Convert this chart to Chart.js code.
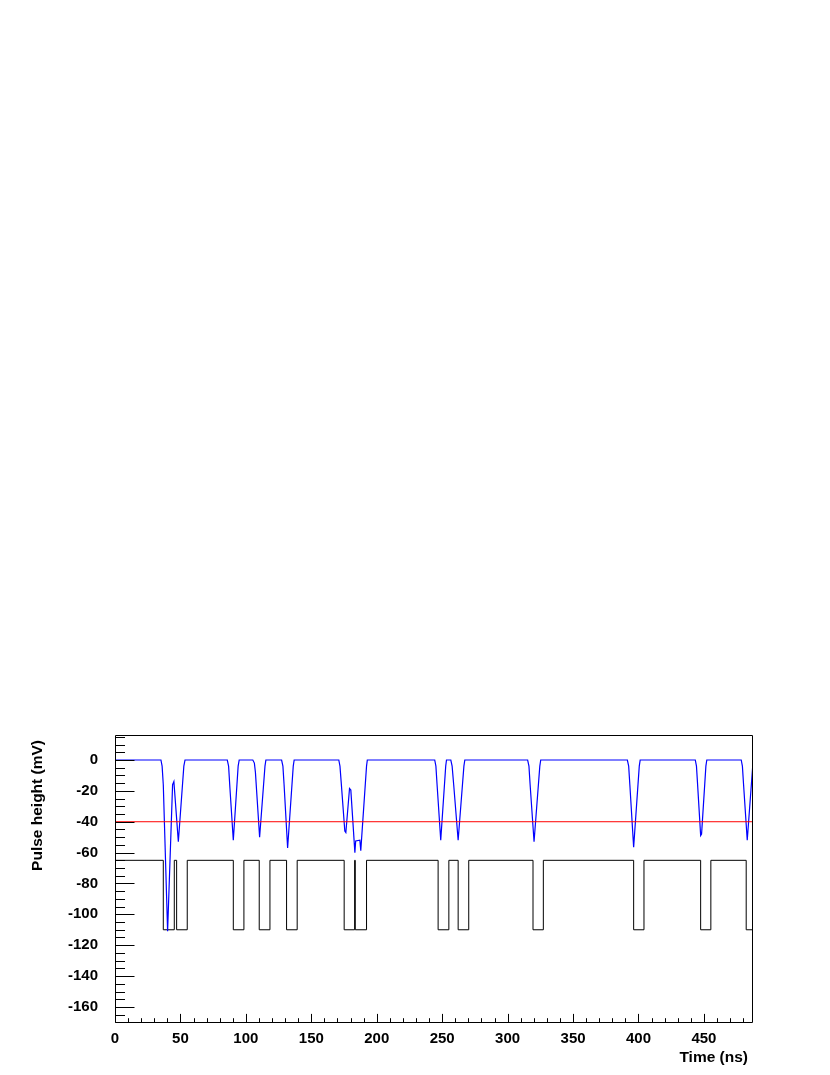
<!DOCTYPE html>
<html>
<head>
  <meta charset="UTF-8">
  <title>Pulse height vs time</title>
  <script src="https://cdn.jsdelivr.net/npm/chart.js"></script>
  <style>
    body { margin: 0; background: #fff; }
    canvas { display: block; }
  </style>
</head>
<body>
  <canvas id="pulseChart" width="830" height="1075"></canvas>

  <script>
    // waveform (blue), time in ns / height in mV
    const blueT = [0, 35.1, 36.0, 36.9, 40.2, 44.0, 45.0, 48.4, 52.6, 53.5,
      85.8, 86.8, 87.8, 90.4, 94.1, 94.9,
      105.3, 106.5, 107.3, 110.5, 114.6, 115.3,
      127.3, 128.3, 129.2, 131.9, 136.2, 136.9,
      171.0, 171.9, 172.8, 175.6, 176.4, 179.2, 180.2, 183.3, 183.9, 187.1, 187.8, 192.2, 192.8,
      244.3, 245.2, 246.1, 248.9, 252.7, 253.3,
      256.6, 257.6, 258.8, 262.2, 266.6, 267.3,
      315.3, 316.3, 317.2, 320.2, 324.6, 325.3,
      391.5, 392.5, 393.4, 396.3, 400.6, 401.3,
      443.4, 444.3, 445.1, 447.5, 448.2, 451.5, 452.2,
      478.5, 479.4, 480.3, 483.1, 487.5];
    const blueV = [0, 0, -4, -16, -111, -16, -14, -53, -4, 0,
      0, -4, -18, -52, -4, 0,
      0, -2, -8, -50, -4, 0,
      0, -4, -16, -57, -4, 0,
      0, -4, -14, -46, -47, -18.5, -19.5, -60, -52.5, -52, -58.7, -4, 0,
      0, -4, -16, -52, -4, 0,
      0, -4, -16, -52, -4, 0,
      0, -4, -16, -53, -4, 0,
      0, -4, -16, -56.5, -4, 0,
      0, -4, -15, -49, -48, -4, 0,
      0, -4, -16, -52, -1.5];

    // discriminator output (black), level changes
    const logicT = [0, 36.9, 45.3, 47.1, 55.2, 90.4, 98.5, 110.2, 118.4, 131.1, 139.2,
      175.1, 183.1, 183.6, 192.2, 246.9, 255.1, 262.2, 270.3, 319.4, 327.3,
      396.3, 404.2, 447.5, 455.3, 482.3, 487.5];
    const logicV = [-65, -110, -65, -110, -65, -110, -65, -110, -65, -110, -65,
      -110, -65, -110, -65, -110, -65, -110, -65, -110, -65,
      -110, -65, -110, -65, -110, -110];

    // threshold (red)
    const thrT = [0, 487.5];
    const thrV = [-40, -40];

    const xMin = 0, xMax = 487.5;
    const yMin = -170.4, yMax = 16.2;

    const pts = (xs, ys) => xs.map((x, i) => ({ x: x, y: ys[i] }));

    const FONT = '"Liberation Sans", Arial, sans-serif';
    Chart.defaults.font.family = FONT;
    Chart.defaults.color = '#000';

    // ROOT style frame, inward ticks and axis titles
    const rootAxes = {
      id: 'rootAxes',
      afterDraw(chart) {
        const ctx = chart.ctx;
        const a = chart.chartArea;
        const xs = chart.scales.x, ys = chart.scales.y;
        const L = Math.round(a.left) + 0.5, R = Math.round(a.right) - 0.5;
        const T = Math.round(a.top) + 0.5, B = Math.round(a.bottom) - 0.5;
        ctx.save();
        ctx.strokeStyle = '#000';
        ctx.lineWidth = 1;
        ctx.beginPath();
        ctx.rect(L, T, R - L, B - T);
        for (let v = -170; v <= 15; v += 5) {
          const py = Math.round(ys.getPixelForValue(v)) + 0.5;
          const len = v % 20 === 0 ? 19 : 9.5;
          ctx.moveTo(L, py);
          ctx.lineTo(L + len, py);
        }
        for (let t = 0; t <= 480; t += 10) {
          const px = Math.round(xs.getPixelForValue(t)) + 0.5;
          const len = t % 50 === 0 ? 8.6 : 4.3;
          ctx.moveTo(px, B);
          ctx.lineTo(px, B - len);
        }
        ctx.stroke();

        ctx.fillStyle = '#000';
        ctx.font = 'bold 15.5px ' + FONT;
        ctx.textAlign = 'right';
        ctx.textBaseline = 'alphabetic';
        ctx.fillText('Time (ns)', a.right - 5, a.bottom + 39);
        ctx.translate(42, a.top + 5);
        ctx.rotate(-Math.PI / 2);
        ctx.fillText('Pulse height (mV)', 0, 0);
        ctx.restore();
      }
    };

    const ctx = document.getElementById('pulseChart').getContext('2d');
    new Chart(ctx, {
      type: 'scatter',
      data: {
        datasets: [
          {
            label: 'threshold',
            data: pts(thrT, thrV),
            showLine: true,
            borderColor: '#ff0000',
            borderWidth: 1,
            pointRadius: 0
          },
          {
            label: 'pulse',
            data: pts(blueT, blueV),
            showLine: true,
            borderColor: '#0000ff',
            borderWidth: 1.2,
            pointRadius: 0,
            tension: 0
          },
          {
            label: 'discriminator',
            data: pts(logicT, logicV),
            showLine: true,
            stepped: 'before',
            borderColor: '#000000',
            borderWidth: 1,
            pointRadius: 0
          }
        ]
      },
      options: {
        responsive: false,
        animation: false,
        layout: { padding: { top: 735, right: 77, left: 0, bottom: 0 } },
        plugins: {
          legend: { display: false },
          tooltip: { enabled: false }
        },
        scales: {
          x: {
            type: 'linear',
            min: xMin,
            max: xMax,
            afterFit: s => { s.height = 52; },
            grid: { display: false, drawTicks: false },
            border: { display: false },
            ticks: {
              stepSize: 50,
              includeBounds: false,
              autoSkip: false,
              maxRotation: 0,
              padding: 7,
              font: { size: 15, weight: 'bold' }
            }
          },
          y: {
            type: 'linear',
            min: yMin,
            max: yMax,
            afterFit: s => { s.width = 115; },
            grid: { display: false, drawTicks: false },
            border: { display: false },
            ticks: {
              stepSize: 20,
              includeBounds: false,
              autoSkip: false,
              padding: 17,
              font: { size: 15, weight: 'bold' }
            }
          }
        }
      },
      plugins: [rootAxes]
    });
  </script>
</body>
</html>
